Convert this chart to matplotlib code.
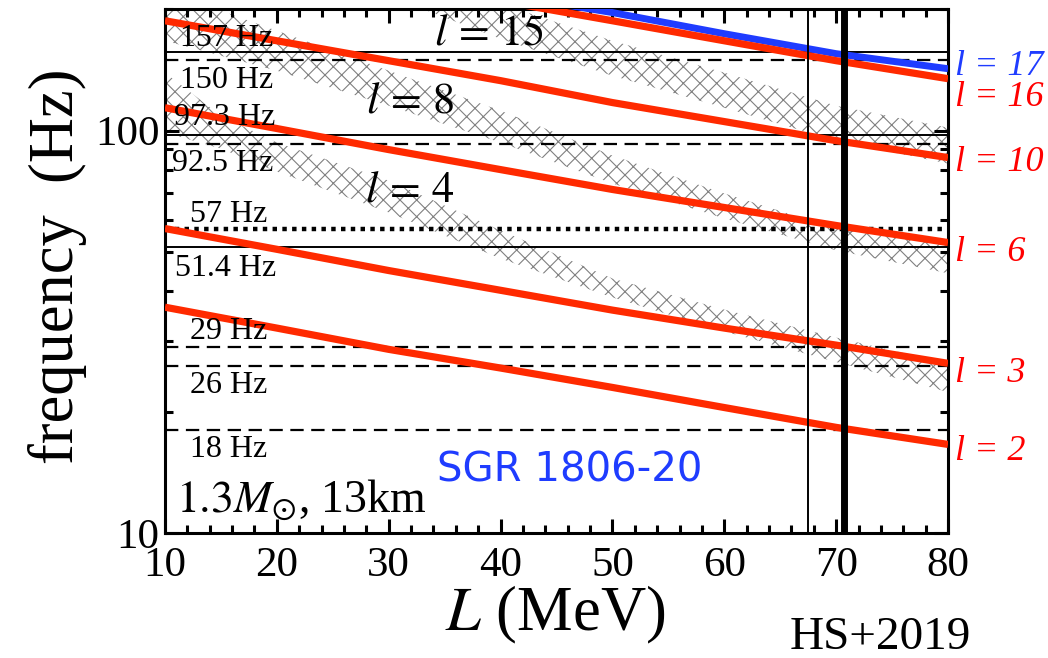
import matplotlib
matplotlib.use("Agg")
import matplotlib.pyplot as plt
from matplotlib.ticker import FixedLocator, MultipleLocator, NullFormatter, LogLocator

plt.rcParams['font.family'] = 'serif'
plt.rcParams['font.serif'] = ['Liberation Serif', 'DejaVu Serif']
plt.rcParams['mathtext.fontset'] = 'stix'
plt.rcParams['hatch.linewidth'] = 0.8

# ---- data ----
L = [10, 20, 30, 40, 50, 60, 70, 80]          # MeV
f_l2 = [36.4, 32.3, 28.6, 25.7, 23.0, 20.5, 18.3, 16.6]
f_l3 = [57.1, 50.7, 44.9, 40.1, 35.8, 32.3, 29.3, 26.4]
f_l6 = [114.0, 101.2, 89.7, 80.0, 71.4, 64.4, 58.1, 52.7]
f_l10 = [187.5, 167.2, 149.2, 133.1, 117.4, 105.3, 94.4, 85.7]
L_top = [40, 50, 60, 70, 80]
f_l16 = [210.0, 187.5, 167.2, 149.2, 134.6]
f_l17 = [218.0, 196.5, 174.1, 155.3, 142.5]

# hatched bands (upper / lower edge)
L_band4 = [10, 15, 20, 30, 40, 50, 60, 70, 80]
band4_hi = [139.3, 108.9, 93.4, 75.1, 56.5, 42.9, 35.9, 30.6, 26.4]
band4_lo = [98.9, 90.2, 79.1, 62.6, 48.1, 38.5, 31.7, 26.6, 22.4]
band8_hi = [222.6, 177.1, 140.9, 112.1, 86.7, 69.8, 57.1, 51.8]
band8_lo = [167.2, 140.9, 115.3, 93.4, 73.9, 60.5, 50.4, 44.2]
L_band15 = [30, 40, 50, 60, 70, 80]
band15_hi = [264.0, 206.6, 167.2, 139.3, 115.3, 101.7]
band15_lo = [216.0, 169.1, 136.9, 114.0, 94.4, 82.8]

# observed QPO frequencies of SGR 1806-20
qpo_f = [157, 150, 97.3, 92.5, 57, 51.4, 29, 26, 18]
qpo_labels = ["157 Hz", "150 Hz", "97.3 Hz", "92.5 Hz", "57 Hz",
              "51.4 Hz", "29 Hz", "26 Hz", "18 Hz"]
qpo_style = ["solid", "dashed", "solid", "dashed", "dotted",
             "solid", "dashed", "dashed", "dashed"]
L_marks = [67.5, 70.7]

red = "#ff2a00"
blue = "#1f3cff"

fig = plt.figure(figsize=(10.48, 6.58), dpi=100)
ax = fig.add_axes([0.1574, 0.19, 0.7472, 0.7956])
ax.set_yscale("log")
ax.set_xlim(10, 80)
ax.set_ylim(10, 200)

# hatched regions
for xs, hi, lo in [(L_band4, band4_hi, band4_lo), (L, band8_hi, band8_lo),
                   (L_band15, band15_hi, band15_lo)]:
    ax.fill_between(xs, lo, hi, facecolor="none", edgecolor="#808080",
                    hatch="xx", linewidth=0, zorder=1)

# horizontal QPO lines
for f, st in zip(qpo_f, qpo_style):
    if st == "solid":
        ax.axhline(f, color="black", lw=1.4, zorder=2)
    elif st == "dashed":
        ax.axhline(f, color="black", lw=1.6, dashes=(6.0, 3.4), zorder=2)
    else:
        ax.axhline(f, color="black", lw=3.2, dashes=(1.0, 1.2),
                   dash_capstyle="butt", zorder=2)

# QPO labels
lab_x = [0.019, 0.019, 0.012, 0.009, 0.032, 0.013, 0.032, 0.032, 0.032]
lab_y = [169.2, 133.1, 107.7, 82.8, 61.9, 45.5, 31.7, 23.3, 16.1]
ytr = ax.get_yaxis_transform()
for x, y, s in zip(lab_x, lab_y, qpo_labels):
    ax.text(x, y, s, transform=ytr, fontsize=23, va="center", ha="left", zorder=5)

# model lines
for f in [f_l2, f_l3, f_l6, f_l10]:
    ax.plot(L, f, color=red, lw=5.2, solid_capstyle="butt", zorder=3)
ax.plot(L_top, f_l17, color=blue, lw=5.0, solid_capstyle="butt", zorder=3)
ax.plot(L_top, f_l16, color=red, lw=5.2, solid_capstyle="butt", zorder=3)

# vertical lines
ax.axvline(L_marks[0], color="black", lw=1.4, zorder=4)
ax.axvline(L_marks[1], color="black", lw=5.0, zorder=4)

# band labels
ax.text(39.0, 174, r"$l\,=\,15$", fontsize=32, ha="center", va="center", zorder=5)
ax.text(31.9, 118, r"$l\,=\,8$", fontsize=32, ha="center", va="center", zorder=5)
ax.text(31.9, 71, r"$l\,=\,4$", fontsize=32, ha="center", va="center", zorder=5)

# right side labels
right_lab = ["l = 17", "l = 16", "l = 10", "l = 6", "l = 3", "l = 2"]
right_y = [144.2, 120.8, 83.3, 49.8, 24.9, 15.9]
right_c = [blue, "red", "red", "red", "red", "red"]
for s, y, c in zip(right_lab, right_y, right_c):
    ax.text(1.009, y, s, transform=ytr, fontsize=26, style="italic",
            color=c, va="center", ha="left", clip_on=False)

ax.text(46.2, 14.3, "SGR 1806-20", fontsize=29, color=blue,
        family="DejaVu Sans", ha="center", va="center", zorder=5)
ax.text(0.014, 11.3, r"$1.3M_{\odot}$, 13km", transform=ytr, fontsize=33,
        ha="left", va="baseline", zorder=5)

# axes styling
for sp in ax.spines.values():
    sp.set_linewidth(2.2)
ax.xaxis.set_major_locator(MultipleLocator(10))
ax.xaxis.set_minor_locator(MultipleLocator(2))
ax.yaxis.set_major_locator(FixedLocator([10, 100]))
ax.yaxis.set_minor_locator(LogLocator(base=10, subs=range(2, 10)))
ax.yaxis.set_minor_formatter(NullFormatter())
ax.set_yticklabels(["10", "100"])
ax.tick_params(which="both", direction="in", top=True, right=True, width=2.2)
ax.tick_params(which="major", length=10, labelsize=31)
ax.tick_params(which="minor", length=6)
ax.tick_params(axis="x", which="major", pad=10)
ax.tick_params(axis="y", which="major", pad=4)

fig.text(0.53, 1 - 615 / 658, r"$L$ (MeV)", fontsize=45, ha="center", va="center")
fig.text(0.055, 1 - 266 / 658, "frequency  (Hz)", fontsize=45, rotation=90,
         ha="center", va="center")
fig.text(0.84, 1 - 638 / 658, "HS+2019", fontsize=34, ha="center", va="center")

fig.savefig("out.png", dpi=100)
